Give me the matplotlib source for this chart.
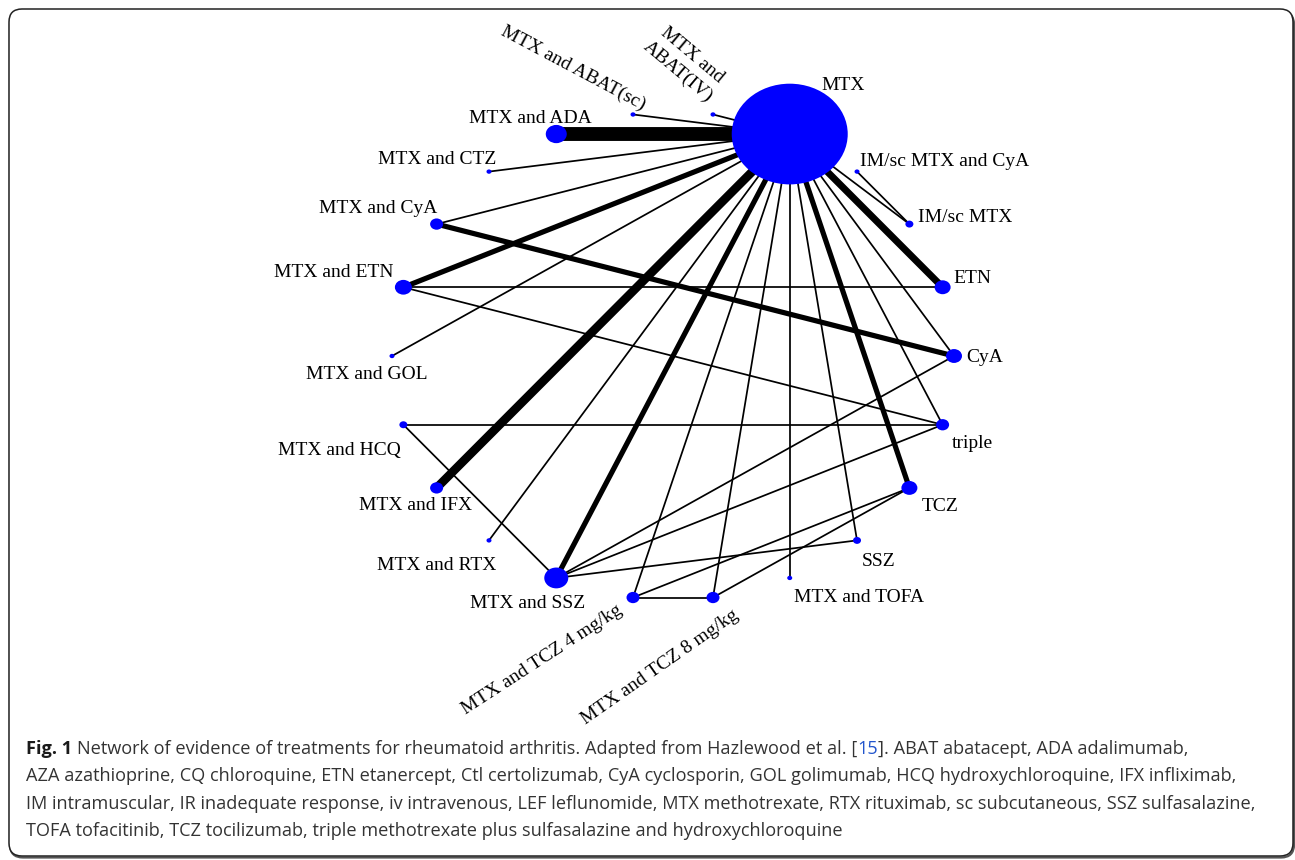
import numpy as np
import matplotlib
matplotlib.use("Agg")
import matplotlib.pyplot as plt
from matplotlib.patches import Circle, FancyBboxPatch

# ---------------- data ----------------
treatments = [
    "CyA", "ETN", "IM/sc MTX", "IM/sc MTX and CyA", "MTX",
    "MTX and ABAT(IV)", "MTX and ABAT(sc)", "MTX and ADA", "MTX and CTZ",
    "MTX and CyA", "MTX and ETN", "MTX and GOL", "MTX and HCQ", "MTX and IFX",
    "MTX and RTX", "MTX and SSZ", "MTX and TCZ 4 mg/kg", "MTX and TCZ 8 mg/kg",
    "MTX and TOFA", "SSZ", "TCZ", "triple",
]
node_weight = [16, 16, 8, 5, 116, 5, 5, 21, 5, 13, 17, 5, 8, 13, 5, 24, 13, 13, 5, 8, 16, 13]

edge_from = [
    "MTX", "MTX", "MTX", "MTX", "MTX", "MTX", "MTX", "MTX", "MTX", "MTX",
    "MTX", "MTX", "MTX", "MTX", "MTX", "MTX", "MTX", "MTX", "MTX",
    "IM/sc MTX and CyA", "MTX and CyA", "MTX and ETN", "MTX and ETN",
    "MTX and HCQ", "MTX and HCQ", "MTX and SSZ", "MTX and SSZ", "MTX and SSZ",
    "TCZ", "TCZ", "MTX and TCZ 4 mg/kg",
]
edge_to = [
    "MTX and ABAT(sc)", "MTX and ABAT(IV)", "MTX and ADA", "MTX and CTZ", "MTX and CyA",
    "MTX and ETN", "MTX and GOL", "MTX and IFX", "MTX and RTX", "MTX and SSZ",
    "MTX and TCZ 4 mg/kg", "MTX and TCZ 8 mg/kg", "MTX and TOFA", "SSZ", "TCZ",
    "triple", "CyA", "ETN", "IM/sc MTX",
    "IM/sc MTX", "CyA", "ETN", "triple",
    "triple", "MTX and SSZ", "CyA", "triple", "SSZ",
    "MTX and TCZ 4 mg/kg", "MTX and TCZ 8 mg/kg", "MTX and TCZ 8 mg/kg",
]
edge_studies = [1, 1, 8, 1, 1, 3, 1, 5, 1, 3, 1, 1, 1, 1, 3, 1, 1, 4, 1,
                1, 3, 1, 1, 1, 1, 1, 1, 1, 1, 1, 1]

caption_runs_line1 = [
    ("Fig. 1", "bold", "#1a1a1a"),
    ("Network of evidence of treatments for rheumatoid arthritis. Adapted from Hazlewood et al. [", "normal", "#333333"),
    ("15", "normal", "#2255cc"),
    ("]. ABAT abatacept, ADA adalimumab,", "normal", "#333333"),
]
caption_lines = [
    "AZA azathioprine, CQ chloroquine, ETN etanercept, Ctl certolizumab, CyA cyclosporin, GOL golimumab, HCQ hydroxychloroquine, IFX infliximab,",
    "IM intramuscular, IR inadequate response, iv intravenous, LEF leflunomide, MTX methotrexate, RTX rituximab, sc subcutaneous, SSZ sulfasalazine,",
    "TOFA tofacitinib, TCZ tocilizumab, triple methotrexate plus sulfasalazine and hydroxychloroquine",
]

# ---------------- style / layout ----------------
W, H = 1295, 860
label_style = {  # dx, dy (pixels, y up), rotation
    "CyA": (31, -1, 0), "ETN": (30, 9, 0), "IM/sc MTX": (56, 7, 0),
    "IM/sc MTX and CyA": (88, 10, 0), "MTX": (53, 49, 0),
    "MTX and ABAT(IV)": (-28, 51, -40), "MTX and ABAT(sc)": (-60, 46, -28),
    "MTX and ADA": (-26, 16, 0), "MTX and CTZ": (-52, 12, 0),
    "MTX and CyA": (-58, 16, 0), "MTX and ETN": (-70, 15, 0),
    "MTX and GOL": (-25, -19, 0), "MTX and HCQ": (-64, -26, 0),
    "MTX and IFX": (-21, -18, 0), "MTX and RTX": (-52, -25, 0),
    "MTX and SSZ": (-29, -26, 0), "MTX and TCZ 4 mg/kg": (-91, -62, 33),
    "MTX and TCZ 8 mg/kg": (-53, -70, 35), "MTX and TOFA": (69, -20, 0),
    "SSZ": (22, -21, 0), "TCZ": (31, -19, 0), "triple": (30, -19, 0),
}
label_text = {"MTX and ABAT(IV)": "MTX and\nABAT(IV)"}
label_linespacing = {"MTX and ABAT(IV)": 1.4}

cx_px, cy_px, rx_px, ry_px = 673, 356, 281, 244

fig = plt.figure(figsize=(W / 100, H / 100), dpi=100)
fig.patch.set_facecolor("white")
ax = fig.add_axes([0, 0, 1, 1])
ax.set_xlim(-cx_px / rx_px, (W - cx_px) / rx_px)
ax.set_ylim((cy_px - H) / ry_px, cy_px / ry_px)
ax.axis("off")
ax.patch.set_visible(False)

# frame with rounded corners and a slight shadow
shadow = FancyBboxPatch((0.10, 0.025), 12.84, 8.46,
                        boxstyle="round,pad=0,rounding_size=0.13",
                        transform=fig.dpi_scale_trans, facecolor="none",
                        edgecolor="#555555", linewidth=1.6, zorder=-3)
frame = FancyBboxPatch((0.09, 0.04), 12.84, 8.47,
                       boxstyle="round,pad=0,rounding_size=0.13",
                       transform=fig.dpi_scale_trans, facecolor="white",
                       edgecolor="#222222", linewidth=1.1, zorder=-2)
fig.patches.extend([shadow, frame])

n = len(treatments)
angles = 2 * np.pi * np.arange(n) / n
pos = {t: (np.cos(a), np.sin(a)) for t, a in zip(treatments, angles)}

for a, b, s in zip(edge_from, edge_to, edge_studies):
    (x1, y1), (x2, y2) = pos[a], pos[b]
    ax.plot([x1, x2], [y1, y2], color="black", lw=1.25 * s,
            solid_capstyle="butt", zorder=2)

for t, w in zip(treatments, node_weight):
    x, y = pos[t]
    ax.add_patch(Circle((x, y), w / (2 * rx_px), facecolor="#0000ff",
                        edgecolor="none", zorder=3))
    dx, dy, rot = label_style[t]
    ax.annotate(label_text.get(t, t), (x, y), xytext=(dx, dy),
                textcoords="offset pixels", ha="center", va="center",
                rotation=rot, rotation_mode="anchor", multialignment="center",
                fontsize=14, family="Liberation Serif", color="black",
                linespacing=label_linespacing.get(t, 1.2), zorder=4)

# caption
cap_font = "Open Sans"
cap_size = 13.1
renderer = fig.canvas.get_renderer()


def measure(s, weight="normal"):
    t = fig.text(0, 0, s, fontsize=cap_size, family=cap_font, fontweight=weight)
    w = t.get_window_extent(renderer).width
    t.remove()
    return w


space_w = measure("x x") - measure("xx")
x0 = 26
base0 = 754
step = 27.3
x = x0
for i, (s, wt, col) in enumerate(caption_runs_line1):
    if i == 1:
        x += space_w
    t = fig.text(x / W, 1 - base0 / H, s, fontsize=cap_size, family=cap_font,
                 fontweight=wt, color=col, va="baseline", ha="left")
    x += t.get_window_extent(renderer).width
for k, line in enumerate(caption_lines):
    fig.text(x0 / W, 1 - (base0 + step * (k + 1)) / H, line, fontsize=cap_size,
             family=cap_font, color="#333333", va="baseline", ha="left")

fig.savefig("out.png", dpi=100, facecolor="white")
